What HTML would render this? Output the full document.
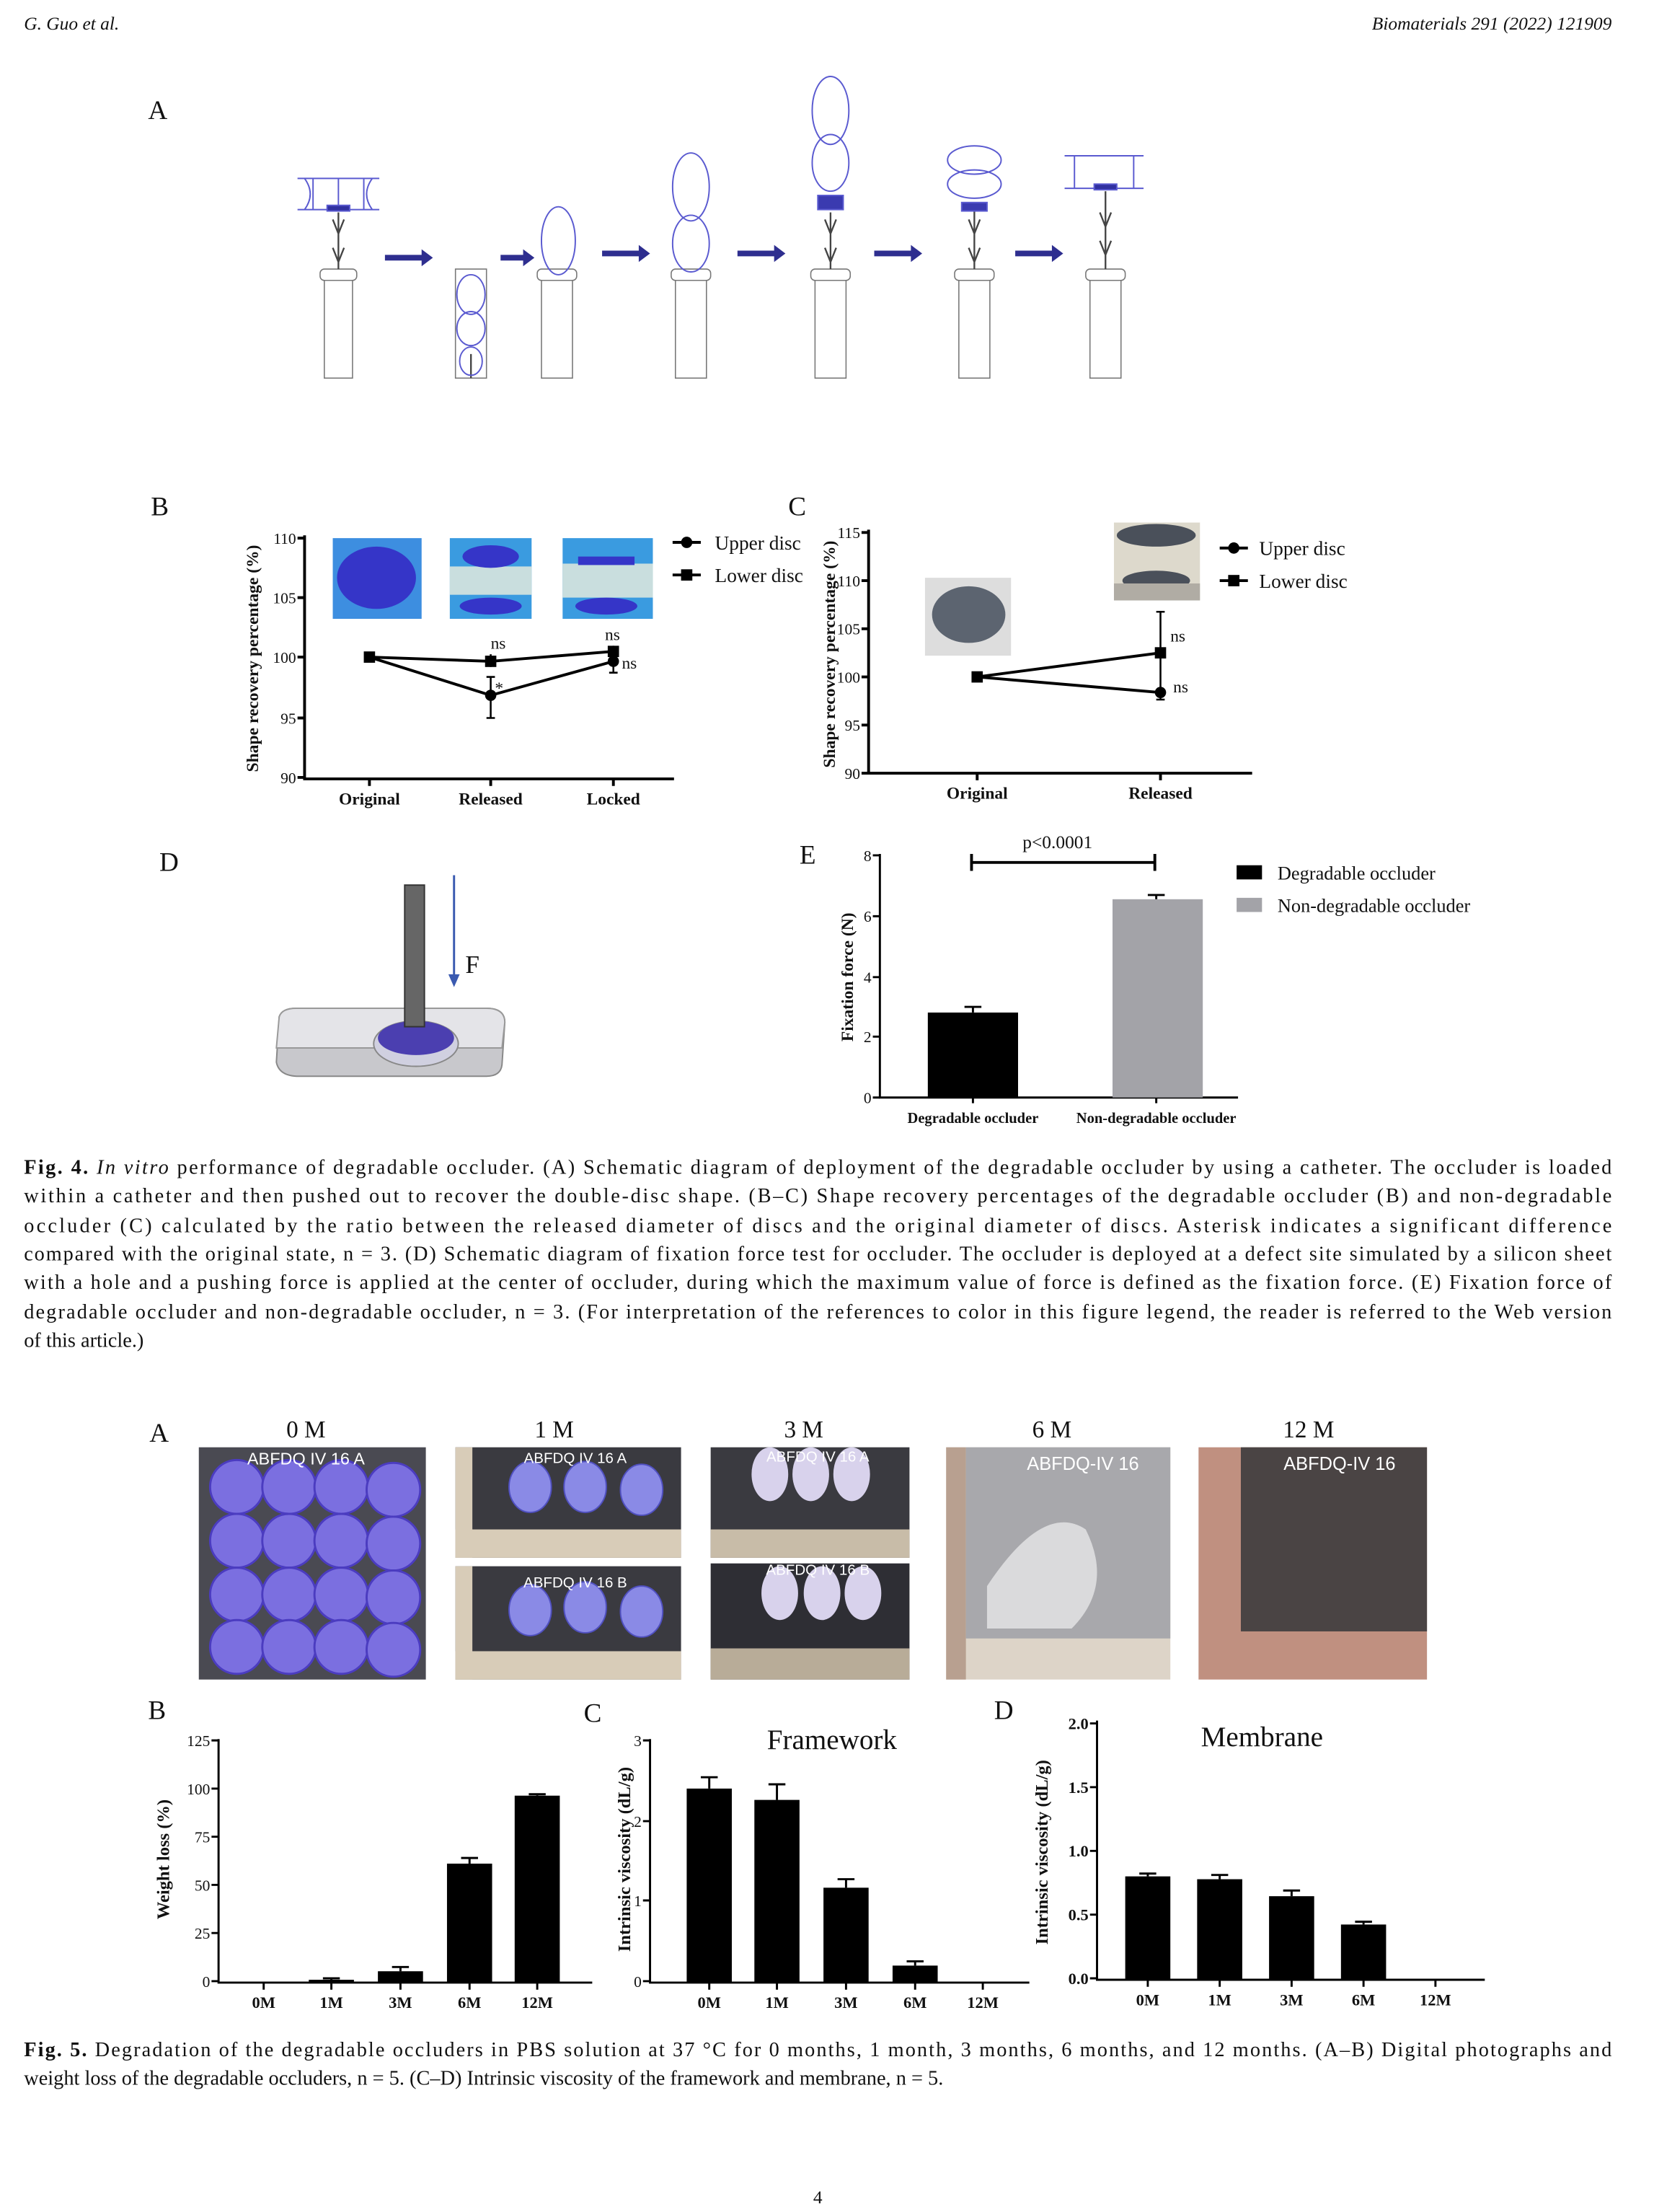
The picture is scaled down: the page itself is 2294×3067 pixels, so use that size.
<!DOCTYPE html>
<html><head><meta charset="utf-8"><style>
html,body{margin:0;padding:0;background:#fff}
svg{display:block}
text{font-family:"Liberation Serif",serif;fill:#111}
</style></head><body>
<svg width="2294" height="3067" viewBox="0 0 1173 1562" preserveAspectRatio="none" xmlns="http://www.w3.org/2000/svg">
<rect width="1173" height="1562" fill="#fff"/>
<text x="17" y="21" font-size="13" font-style="italic">G. Guo et al.</text>
<text x="1143" y="21" font-size="13" font-style="italic" text-anchor="end">Biomaterials 291 (2022) 121909</text>

<!-- Fig4 A -->
<text x="105" y="84" font-size="19">A</text>
<g stroke="#777" stroke-width="0.8" fill="#fff">
<rect x="230" y="195" width="20" height="72"/><rect x="227" y="190" width="26" height="8" rx="3"/>
<rect x="323" y="190" width="22" height="77"/>
<rect x="384" y="195" width="22" height="72"/><rect x="381" y="190" width="28" height="8" rx="3"/>
<rect x="479" y="195" width="22" height="72"/><rect x="476" y="190" width="28" height="8" rx="3"/>
<rect x="578" y="195" width="22" height="72"/><rect x="575" y="190" width="28" height="8" rx="3"/>
<rect x="680" y="195" width="22" height="72"/><rect x="677" y="190" width="28" height="8" rx="3"/>
<rect x="773" y="195" width="22" height="72"/><rect x="770" y="190" width="28" height="8" rx="3"/>
</g>
<g stroke="#444" stroke-width="1.2" fill="none">
<path d="M240 150v40M236 155l4 10 4-10M236 175l4 10 4-10"/>
<path d="M334 250v17"/>
<path d="M589 150v40M585 155l4 10 4-10M585 175l4 10 4-10"/>
<path d="M691 143v47M687 155l4 10 4-10M687 175l4 10 4-10"/>
<path d="M784 135v55M780 150l4 10 4-10M780 170l4 10 4-10"/>
</g>
<g stroke="#5a5ad0" stroke-width="1" fill="none">
<path d="M211 126h58M211 148h58M216 126q8 11 0 22M264 126q-8 11 0 22M222 126v22M258 126v22M240 126v22"/>
<rect x="232" y="145" width="16" height="4" fill="#3030a0"/>
<ellipse cx="334" cy="208" rx="10" ry="14"/><ellipse cx="334" cy="232" rx="10" ry="12"/><ellipse cx="334" cy="255" rx="8" ry="10"/>
<ellipse cx="396" cy="170" rx="12" ry="24"/>
<ellipse cx="490" cy="132" rx="13" ry="24"/><ellipse cx="490" cy="172" rx="13" ry="20"/>
<ellipse cx="589" cy="78" rx="13" ry="24"/><ellipse cx="589" cy="115" rx="13" ry="20"/><rect x="580" y="138" width="18" height="10" fill="#3a3ab0"/>
<ellipse cx="691" cy="113" rx="19" ry="10"/><ellipse cx="691" cy="130" rx="19" ry="10"/><rect x="682" y="143" width="18" height="6" fill="#3a3ab0"/>
<path d="M755 110h56M755 133h56M762 110v23M804 110v23"/><rect x="776" y="130" width="16" height="4" fill="#3030a0"/>
</g>
<g fill="#2e2e8f"><path d="M273 180h26v-4l8 6-8 6v-4h-26z"/><path d="M355 180h16v-4l8 6-8 6v-4h-16z"/><path d="M427 177h26v-4l8 6-8 6v-4h-26z"/><path d="M523 177h26v-4l8 6-8 6v-4h-26z"/><path d="M620 177h26v-4l8 6-8 6v-4h-26z"/><path d="M720 177h26v-4l8 6-8 6v-4h-26z"/></g>

<!-- Fig4 B -->
<text x="107" y="364" font-size="19">B</text>
<rect x="236" y="380" width="63" height="57" fill="#3d8ee0"/><ellipse cx="267" cy="408" rx="28" ry="22" fill="#3535c8"/>
<rect x="319" y="380" width="58" height="57" fill="#3a9be0"/><rect x="319" y="400" width="58" height="20" fill="#c9dede"/><ellipse cx="348" cy="393" rx="20" ry="8" fill="#3535c8"/><ellipse cx="348" cy="428" rx="22" ry="6" fill="#3535c8"/>
<rect x="399" y="380" width="64" height="57" fill="#3a9be0"/><rect x="399" y="398" width="64" height="24" fill="#c9dede"/><rect x="410" y="393" width="40" height="6" fill="#3535c8"/><ellipse cx="430" cy="428" rx="22" ry="6" fill="#3535c8"/>
<g stroke="#000" stroke-width="2" fill="none">
<path d="M216 378V550H478"/>
<path d="M211 380h5M211 422h5M211 464h5M211 507h5M211 549h5M262 550v5M348 550v5M435 550v5"/>
<path d="M262 464L348 491L435 467" /><path d="M262 464L348 467L435 460"/>
<path stroke-width="1.3" d="M348 478v29M345 478h6M345 507h6M435 456v19M432 475h6M348 462v9M435 458v5"/>
</g>
<g fill="#000"><rect x="258" y="460" width="8" height="8"/><rect x="344" y="463" width="8" height="8"/><rect x="431" y="456" width="8" height="8"/><circle cx="348" cy="491" r="4"/><circle cx="435" cy="467" r="4"/></g>
<g font-size="11" text-anchor="end"><text x="210" y="384">110</text><text x="210" y="426">105</text><text x="210" y="468">100</text><text x="210" y="511">95</text><text x="210" y="553">90</text></g>
<g font-size="12" text-anchor="middle" font-weight="bold"><text x="262" y="568">Original</text><text x="348" y="568">Released</text><text x="435" y="568">Locked</text></g>
<text transform="translate(183,465) rotate(-90)" font-size="12" font-weight="bold" text-anchor="middle">Shape recovery percentage (%)</text>
<g font-size="12"><text x="348" y="458">ns</text><text x="429" y="452">ns</text><text x="441" y="472">ns</text><text x="351" y="490">*</text></g>
<path d="M477 383h20M477 406h20" stroke="#000" stroke-width="2"/><circle cx="487" cy="383" r="4"/><rect x="483" y="402" width="8" height="8"/>
<text x="507" y="388" font-size="14">Upper disc</text><text x="507" y="411" font-size="14">Lower disc</text>

<!-- Fig4 C -->
<text x="559" y="364" font-size="19">C</text>
<rect x="656" y="408" width="61" height="55" fill="#ddd"/><ellipse cx="687" cy="434" rx="26" ry="20" fill="#5c6470"/>
<rect x="790" y="369" width="61" height="55" fill="#ddd9cc"/><ellipse cx="820" cy="378" rx="28" ry="8" fill="#4a505a"/><ellipse cx="820" cy="410" rx="24" ry="7" fill="#4a505a"/><rect x="790" y="412" width="61" height="12" fill="#b0aca4"/>
<g stroke="#000" stroke-width="2" fill="none">
<path d="M616 374V546H888"/>
<path d="M611 376h5M611 410h5M611 444h5M611 478h5M611 512h5M611 546h5M693 546v5M823 546v5"/>
<path d="M693 478L823 461M693 478L823 489"/>
<path stroke-width="1.3" d="M823 432v57M820 432h6M820 494h6M823 486v8"/>
</g>
<rect x="689" y="474" width="8" height="8"/><rect x="819" y="457" width="8" height="8"/><circle cx="823" cy="489" r="4"/>
<g font-size="11" text-anchor="end"><text x="610" y="380">115</text><text x="610" y="414">110</text><text x="610" y="448">105</text><text x="610" y="482">100</text><text x="610" y="516">95</text><text x="610" y="550">90</text></g>
<g font-size="12" font-weight="bold" text-anchor="middle"><text x="693" y="564">Original</text><text x="823" y="564">Released</text></g>
<text transform="translate(592,462) rotate(-90)" font-size="12" font-weight="bold" text-anchor="middle">Shape recovery percentage (%)</text>
<g font-size="12"><text x="830" y="453">ns</text><text x="832" y="489">ns</text></g>
<path d="M865 387h20M865 410h20" stroke="#000" stroke-width="2"/><circle cx="875" cy="387" r="4"/><rect x="871" y="406" width="8" height="8"/>
<text x="893" y="392" font-size="14">Upper disc</text><text x="893" y="415" font-size="14">Lower disc</text>

<!-- Fig4 D -->
<text x="113" y="615" font-size="19">D</text>
<path d="M198 718 Q200 712 210 712 L345 712 Q358 712 358 722 L356 752 Q355 760 345 760 L212 760 Q198 760 196 750Z" fill="#c8c8cc" stroke="#888"/>
<path d="M198 718 Q200 712 210 712 L345 712 Q358 712 358 722 L356 740 L196 740Z" fill="#e4e4e8" stroke="#999"/>
<ellipse cx="295" cy="740" rx="28" ry="10" fill="#b0b0d8"/>
<ellipse cx="295" cy="737" rx="30" ry="16" fill="#d0d0e0" stroke="#888"/>
<ellipse cx="295" cy="733" rx="27" ry="12" fill="#4b3fb0"/>
<rect x="287" y="625" width="14" height="100" fill="#666" stroke="#333"/>
<path d="M322 618v72" stroke="#3a5ab0" stroke-width="1.5"/><path d="M318 688l4 9 4-9z" fill="#3a5ab0"/>
<text x="330" y="687" font-size="18">F</text>

<!-- Fig4 E -->
<text x="567" y="610" font-size="19">E</text>
<g stroke="#000" stroke-width="1.5" fill="none"><path d="M624 603V775H878"/><path d="M619 604h5M619 647h5M619 690h5M619 732h5M619 775h5M690 775v4M820 775v4"/>
<path d="M689 603v12M819 603v12M689 609h130" stroke-width="2"/><path d="M690 715v-4M684 711h12M820 635v-3M814 632h12"/></g>
<rect x="658" y="715" width="64" height="60" fill="#000"/><rect x="789" y="635" width="64" height="140" fill="#a3a3a8"/>
<g font-size="11" text-anchor="end"><text x="618" y="608">8</text><text x="618" y="651">6</text><text x="618" y="694">4</text><text x="618" y="736">2</text><text x="618" y="779">0</text></g>
<text x="750" y="599" font-size="13" text-anchor="middle">p&lt;0.0001</text>
<text transform="translate(605,690) rotate(-90)" font-size="12" font-weight="bold" text-anchor="middle">Fixation force (N)</text>
<g font-size="10.5" font-weight="bold" text-anchor="middle"><text x="690" y="793">Degradable occluder</text><text x="820" y="793">Non-degradable occluder</text></g>
<rect x="877" y="611" width="18" height="10" fill="#000"/><rect x="877" y="634" width="18" height="10" fill="#a3a3a8"/>
<text x="906" y="621" font-size="13.5">Degradable occluder</text><text x="906" y="644" font-size="13.5">Non-degradable occluder</text>

<!-- Fig4 caption -->
<g font-size="14.5">
<text x="17" y="829" textLength="1126" lengthAdjust="spacing"><tspan font-weight="bold">Fig. 4.</tspan> <tspan font-style="italic">In vitro</tspan> performance of degradable occluder. (A) Schematic diagram of deployment of the degradable occluder by using a catheter. The occluder is loaded</text>
<text x="17" y="849" textLength="1126" lengthAdjust="spacing">within a catheter and then pushed out to recover the double-disc shape. (B–C) Shape recovery percentages of the degradable occluder (B) and non-degradable</text>
<text x="17" y="870" textLength="1126" lengthAdjust="spacing">occluder (C) calculated by the ratio between the released diameter of discs and the original diameter of discs. Asterisk indicates a significant difference</text>
<text x="17" y="890" textLength="1126" lengthAdjust="spacing">compared with the original state, n = 3. (D) Schematic diagram of fixation force test for occluder. The occluder is deployed at a defect site simulated by a silicon sheet</text>
<text x="17" y="910" textLength="1126" lengthAdjust="spacing">with a hole and a pushing force is applied at the center of occluder, during which the maximum value of force is defined as the fixation force. (E) Fixation force of</text>
<text x="17" y="931" textLength="1126" lengthAdjust="spacing">degradable occluder and non-degradable occluder, n = 3. (For interpretation of the references to color in this figure legend, the reader is referred to the Web version</text>
<text x="17" y="951">of this article.)</text>
</g>

<!-- Fig5 A -->
<text x="106" y="1018" font-size="19">A</text>
<g font-size="17" text-anchor="middle"><text x="217" y="1015">0 M</text><text x="393" y="1015">1 M</text><text x="570" y="1015">3 M</text><text x="746" y="1015">6 M</text><text x="928" y="1015">12 M</text></g>
<rect x="141" y="1022" width="161" height="164" fill="#4a4a52"/>
<g fill="#7b6fe0" stroke="#4b3cc0" stroke-width="1.5">
<circle cx="168" cy="1050" r="19"/><circle cx="205" cy="1050" r="19"/><circle cx="242" cy="1050" r="19"/><circle cx="279" cy="1052" r="19"/>
<circle cx="168" cy="1088" r="19"/><circle cx="205" cy="1088" r="19"/><circle cx="242" cy="1088" r="19"/><circle cx="279" cy="1090" r="19"/>
<circle cx="168" cy="1126" r="19"/><circle cx="205" cy="1126" r="19"/><circle cx="242" cy="1126" r="19"/><circle cx="279" cy="1128" r="19"/>
<circle cx="168" cy="1163" r="19"/><circle cx="205" cy="1163" r="19"/><circle cx="242" cy="1163" r="19"/><circle cx="279" cy="1165" r="19"/>
</g>
<rect x="323" y="1022" width="160" height="78" fill="#3a3a40"/><rect x="323" y="1022" width="12" height="78" fill="#d8ccb8"/><rect x="323" y="1080" width="160" height="20" fill="#d8ccb8"/>
<rect x="323" y="1106" width="160" height="80" fill="#3a3a40"/><rect x="323" y="1106" width="12" height="80" fill="#d8ccb8"/><rect x="323" y="1166" width="160" height="20" fill="#d8ccb8"/>
<g fill="#8a8ae6" stroke="#5050c0"><ellipse cx="376" cy="1050" rx="15" ry="18"/><ellipse cx="415" cy="1050" rx="15" ry="18"/><ellipse cx="455" cy="1052" rx="15" ry="18"/><ellipse cx="376" cy="1137" rx="15" ry="18"/><ellipse cx="415" cy="1135" rx="15" ry="18"/><ellipse cx="455" cy="1138" rx="15" ry="18"/></g>
<rect x="504" y="1022" width="141" height="78" fill="#3a3a40"/><rect x="504" y="1080" width="141" height="20" fill="#c8bca8"/>
<rect x="504" y="1104" width="141" height="82" fill="#2e2e34"/><rect x="504" y="1164" width="141" height="22" fill="#b8ac98"/>
<g fill="#d8d2ec"><ellipse cx="546" cy="1041" rx="13" ry="19"/><ellipse cx="575" cy="1041" rx="13" ry="19"/><ellipse cx="604" cy="1041" rx="13" ry="19"/><ellipse cx="553" cy="1125" rx="13" ry="19"/><ellipse cx="583" cy="1125" rx="13" ry="19"/><ellipse cx="612" cy="1125" rx="13" ry="19"/></g>
<rect x="671" y="1022" width="159" height="164" fill="#ddd4c8"/><rect x="671" y="1022" width="14" height="164" fill="#b8a090"/><rect x="685" y="1022" width="145" height="135" fill="#a8a8ac"/><path d="M700 1120 Q740 1060 770 1080 Q790 1120 760 1150 L700 1150Z" fill="#dadadc"/>
<rect x="850" y="1022" width="162" height="164" fill="#c09080"/><rect x="880" y="1022" width="132" height="130" fill="#4a4444"/>
<g><text x="217" y="1034" font-size="12" text-anchor="middle" style="fill:#fff;font-family:'Liberation Sans',sans-serif">ABFDQ IV 16 A</text>
<text x="408" y="1033" font-size="10.5" text-anchor="middle" style="fill:#fff;font-family:'Liberation Sans',sans-serif">ABFDQ IV 16 A</text>
<text x="408" y="1121" font-size="10.5" text-anchor="middle" style="fill:#fff;font-family:'Liberation Sans',sans-serif">ABFDQ IV 16 B</text>
<text x="580" y="1032" font-size="10.5" text-anchor="middle" style="fill:#fff;font-family:'Liberation Sans',sans-serif">ABFDQ IV 16 A</text>
<text x="580" y="1112" font-size="10.5" text-anchor="middle" style="fill:#fff;font-family:'Liberation Sans',sans-serif">ABFDQ IV 16 B</text>
<text x="768" y="1038" font-size="13" text-anchor="middle" style="fill:#fff;font-family:'Liberation Sans',sans-serif">ABFDQ-IV 16</text>
<text x="950" y="1038" font-size="13" text-anchor="middle" style="fill:#fff;font-family:'Liberation Sans',sans-serif">ABFDQ-IV 16</text></g>

<!-- Fig5 B -->
<text x="105" y="1214" font-size="19">B</text>
<g stroke="#000" stroke-width="1.5" fill="none"><path d="M155 1228V1400H420"/><path d="M150 1229h5M150 1263h5M150 1297h5M150 1331h5M150 1365h5M150 1399h5M187 1400v5M235 1400v5M284 1400v5M333 1400v5M381 1400v5"/>
<path d="M235 1398v-1M229 1397h12M284 1392v-3M278 1389h12M333 1316v-4M327 1312h12M381 1268v-1M375 1267h12"/></g>
<rect x="219" y="1398" width="32" height="2"/><rect x="268" y="1392" width="32" height="8"/><rect x="317" y="1316" width="32" height="84"/><rect x="365" y="1268" width="32" height="132"/>
<g font-size="11" text-anchor="end"><text x="149" y="1233">125</text><text x="149" y="1267">100</text><text x="149" y="1301">75</text><text x="149" y="1335">50</text><text x="149" y="1369">25</text><text x="149" y="1403">0</text></g>
<g font-size="11.5" font-weight="bold" text-anchor="middle"><text x="187" y="1418">0M</text><text x="235" y="1418">1M</text><text x="284" y="1418">3M</text><text x="333" y="1418">6M</text><text x="381" y="1418">12M</text></g>
<text transform="translate(120,1313) rotate(-90)" font-size="12.5" font-weight="bold" text-anchor="middle">Weight loss (%)</text>

<!-- Fig5 C -->
<text x="414" y="1216" font-size="19">C</text>
<g stroke="#000" stroke-width="1.5" fill="none"><path d="M461 1228V1400H730"/><path d="M456 1229h5M456 1286h5M456 1342h5M456 1399h5M503 1400v5M551 1400v5M600 1400v5M649 1400v5M697 1400v5"/>
<path d="M503 1263v-8M497 1255h12M551 1271v-11M545 1260h12M600 1333v-6M594 1327h12M649 1388v-3M643 1385h12"/></g>
<rect x="487" y="1263" width="32" height="137"/><rect x="535" y="1271" width="32" height="129"/><rect x="584" y="1333" width="32" height="67"/><rect x="633" y="1388" width="32" height="12"/>
<g font-size="11" text-anchor="end"><text x="455" y="1233">3</text><text x="455" y="1290">2</text><text x="455" y="1346">1</text><text x="455" y="1403">0</text></g>
<g font-size="11.5" font-weight="bold" text-anchor="middle"><text x="503" y="1418">0M</text><text x="551" y="1418">1M</text><text x="600" y="1418">3M</text><text x="649" y="1418">6M</text><text x="697" y="1418">12M</text></g>
<text x="590" y="1235" font-size="20" text-anchor="middle">Framework</text>
<text transform="translate(447,1313) rotate(-90)" font-size="12.5" font-weight="bold" text-anchor="middle">Intrinsic viscosity (dL/g)</text>

<!-- Fig5 D -->
<text x="705" y="1214" font-size="19">D</text>
<g stroke="#000" stroke-width="1.5" fill="none"><path d="M778 1215V1398H1053"/><path d="M773 1217h5M773 1262h5M773 1307h5M773 1352h5M773 1397h5M814 1398v5M865 1398v5M916 1398v5M967 1398v5M1018 1398v5"/>
<path d="M814 1325v-2M808 1323h12M865 1327v-3M859 1324h12M916 1339v-4M910 1335h12M967 1359v-2M961 1357h12"/></g>
<rect x="798" y="1325" width="32" height="73"/><rect x="849" y="1327" width="32" height="71"/><rect x="900" y="1339" width="32" height="59"/><rect x="951" y="1359" width="32" height="39"/>
<g font-size="11.5" font-weight="bold" text-anchor="end"><text x="772" y="1221">2.0</text><text x="772" y="1266">1.5</text><text x="772" y="1311">1.0</text><text x="772" y="1356">0.5</text><text x="772" y="1401">0.0</text></g>
<g font-size="11.5" font-weight="bold" text-anchor="middle"><text x="814" y="1416">0M</text><text x="865" y="1416">1M</text><text x="916" y="1416">3M</text><text x="967" y="1416">6M</text><text x="1018" y="1416">12M</text></g>
<text x="895" y="1233" font-size="20" text-anchor="middle">Membrane</text>
<text transform="translate(743,1308) rotate(-90)" font-size="12.5" font-weight="bold" text-anchor="middle">Intrinsic viscosity (dL/g)</text>

<g font-size="14.5">
<text x="17" y="1452" textLength="1126" lengthAdjust="spacing"><tspan font-weight="bold">Fig. 5.</tspan> Degradation of the degradable occluders in PBS solution at 37 °C for 0 months, 1 month, 3 months, 6 months, and 12 months. (A–B) Digital photographs and</text>
<text x="17" y="1472">weight loss of the degradable occluders, n = 5. (C–D) Intrinsic viscosity of the framework and membrane, n = 5.</text>
</g>
<text x="580" y="1556" font-size="13" text-anchor="middle">4</text>
</svg>
</body></html>
